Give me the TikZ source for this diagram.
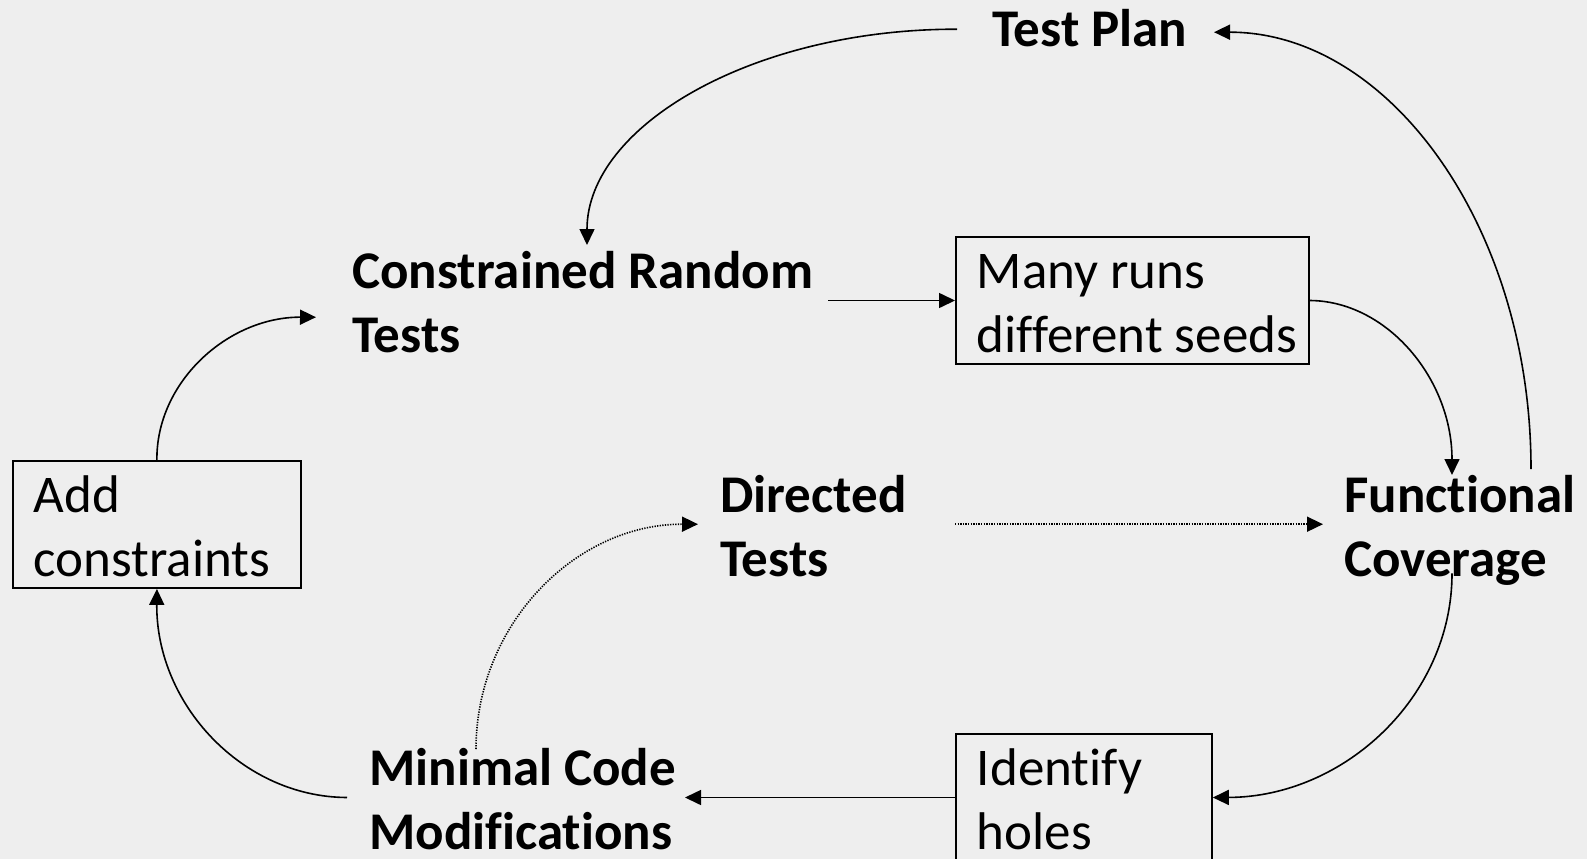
\documentclass[tikz,border=0pt]{standalone}
\usepackage{fontspec}
\setmainfont{Carlito}[Ligatures={NoCommon,NoContextual,NoRare}]
\usetikzlibrary{arrows.meta}
\definecolor{bgc}{HTML}{EEEEEE}
\newcommand\twoL[2]{\begin{tabular}[t]{@{}l@{}}#1\\#2\end{tabular}}
\newcommand\oneL[1]{\begin{tabular}[t]{@{}l@{}}#1\end{tabular}}
\begin{document}
\begin{tikzpicture}[x=1pt,y=-1pt,
  lbl/.style={inner sep=0pt, anchor=base west, font=\fontsize{53}{64}\selectfont\bfseries},
  boxn/.style={draw, line width=1.8pt, inner sep=0pt, anchor=base west, text height=51pt, text depth=76pt, font=\fontsize{53}{64}\selectfont},
  conn/.style={line width=1.6pt, -{Triangle[length=16pt,width=15pt]}},
  dotc/.style={conn, dash pattern=on 1.3pt off 1.3pt}]
\fill[bgc] (0,0) rectangle (1587,859);
\useasboundingbox (0,0) rectangle (1587,859);

% text nodes
\node[lbl] (tp) at (992,47) {\oneL{Test Plan}};
\node[lbl] (cr) at (352,288) {\twoL{Constrained Random}{Tests}};
\node[lbl] (dt) at (720,512) {\twoL{Directed}{Tests}};
\node[lbl] (fc) at (1344,512) {\twoL{Functional}{Coverage}};
\node[lbl] (mc) at (369,785) {\twoL{Minimal Code}{Modifications}};

% boxes
\node[boxn] (many) at (955,288) {\makebox[353pt][l]{\hspace{21pt}\twoL{Many runs}{different seeds}}};
\node[boxn] (ac) at (12,512) {\makebox[288pt][l]{\hspace{21pt}\twoL{Add}{constraints}}};
\node[boxn] (ih) at (955,785) {\makebox[256pt][l]{\hspace{21pt}\twoL{Identify}{holes}}};

% connector end coordinates
\coordinate (c1s) at ([xshift=-35pt,yshift=5pt]tp.west);
\coordinate (c1e) at ([xshift=235pt,yshift=-2pt]cr.north west);
\coordinate (c2s) at ([xshift=187pt,yshift=-2pt]fc.north west);
\coordinate (c2e) at ([xshift=222pt,yshift=2pt]tp.west);
\coordinate (c3s) at ([xshift=476pt]cr.west);
\coordinate (c4e) at ([xshift=108pt,yshift=-8pt]fc.north west);
\coordinate (c5s) at ([xshift=108pt,yshift=22pt]fc.south west);
\coordinate (c6e) at ([xshift=316pt]mc.west);
\coordinate (c7s) at ([xshift=-22pt]mc.west);
\coordinate (c8e) at ([xshift=-36pt,yshift=-10pt]cr.west);
\coordinate (c9s) at ([xshift=107pt,yshift=-9pt]mc.north west);
\coordinate (c9e) at ([xshift=-22pt,yshift=7pt]dt.west);
\coordinate (c10s) at ([xshift=235pt,yshift=7pt]dt.west);
\coordinate (c10e) at ([xshift=-21pt,yshift=7pt]fc.west);

% connectors
\draw[conn] (c1s) .. controls (753,29) and (587,126) .. (c1e);
\draw[conn] (c2s) .. controls (1531,227) and (1389,32) .. (c2e);
\draw[conn] (c3s |- many.west) -- (many.west);
\draw[conn] (many.east) .. controls (1387,301) and (1452,379) .. (c4e);
\draw[conn] (c5s) .. controls (1452,697) and (1344,797) .. (ih.east);
\draw[conn] (ih.west) -- (ih.west -| c6e);
\draw[conn] (c7s |- ih.west) .. controls (242,797) and (156,704) .. (ac.south);
\draw[conn] (ac.north) .. controls (156,382) and (228,317) .. (c8e);
\draw[dotc] (c9s) .. controls (476,625) and (575,524) .. (c9e);
\draw[dotc] (c10s) -- (c10e);
\end{tikzpicture}
\end{document}
